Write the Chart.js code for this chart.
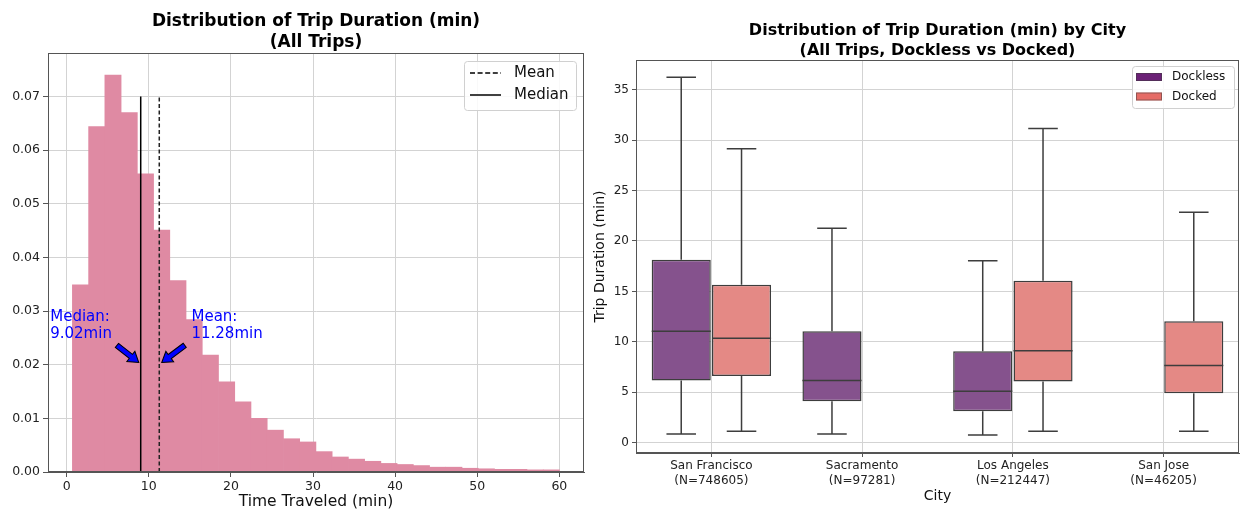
<!DOCTYPE html>
<html>
<head>
<meta charset="utf-8">
<script src="https://cdn.jsdelivr.net/npm/chart.js@4.4.0/dist/chart.umd.min.js"></script>
<style>
  html, body { margin: 0; padding: 0; background: #fff; }
  #wrap { position: relative; width: 1241px; height: 510px; overflow: hidden; }
  #hist { position: absolute; left: 0; top: 0; }
  #box { position: absolute; left: 590px; top: 0; }
</style>
</head>
<body>
<div id="wrap">
  <canvas id="hist" width="590" height="510"></canvas>
  <canvas id="box" width="651" height="510"></canvas>
</div>
<script>
// ---- histogram data (density per bin) ----
const binStart = 0.7;
const binWidth = 1.977;
const histDensity = [0.0349, 0.0644, 0.0740, 0.0670, 0.0556, 0.0451, 0.0357, 0.0284, 0.0218, 0.0168,
                     0.0131, 0.0100, 0.0078, 0.0062, 0.0056, 0.0038, 0.0028, 0.0024, 0.0020, 0.0016,
                     0.0014, 0.0012, 0.0009, 0.0009, 0.0007, 0.0006, 0.0005, 0.0005, 0.0004, 0.0004];
const medianVal = 9.02;
const meanVal = 11.28;
const refLineTop = 0.07;
const histXTicks = [0, 10, 20, 30, 40, 50, 60];
const histYTicks = [0, 0.01, 0.02, 0.03, 0.04, 0.05, 0.06, 0.07];

// annotation text and arrows, in data units
const noteMedian = ['Median:', '9.02min'];
const noteMean = ['Mean:', '11.28min'];
const noteMedianAt = [-2.0, 0.0289];
const noteMeanAt = [15.2, 0.0289];
const arrowMedian = [[6.12, 0.0236], [8.78, 0.0204]];
const arrowMean = [[14.38, 0.0236], [11.58, 0.0204]];

// ---- box plot data (minutes) ----
const cities = ['San Francisco', 'Sacramento', 'Los Angeles', 'San Jose'];
const cityN = ['748605', '97281', '212447', '46205'];
const docklessLow = [0.85, 0.85, 0.75, null];
const docklessQ1 = [6.15, 4.1, 3.1, null];
const docklessMed = [11.05, 6.15, 5.1, null];
const docklessQ3 = [18.15, 11.05, 9.05, null];
const docklessHigh = [36.25, 21.25, 18.05, null];
const dockedLow = [1.12, null, 1.12, 1.12];
const dockedQ1 = [6.6, null, 6.05, 4.9];
const dockedMed = [10.35, null, 9.12, 7.65];
const dockedQ3 = [15.65, null, 16.05, 12.05];
const dockedHigh = [29.15, null, 31.15, 22.85];

const FONT = "'DejaVu Sans', 'Liberation Sans', sans-serif";
Chart.defaults.font.family = FONT;
Chart.defaults.color = '#222';
Chart.defaults.animation = false;

const GRID = '#d3d3d3';
const SPINE = '#555';

function frame(chart){
  const a = chart.chartArea, ctx = chart.ctx;
  ctx.save();
  ctx.strokeStyle = SPINE;
  ctx.lineWidth = 1;
  ctx.strokeRect(a.left + 0.5, a.top + 0.5, a.right - a.left - 1, a.bottom - a.top - 1);
  ctx.restore();
}

function drawTitle(chart, lines, size, y1, gap){
  const a = chart.chartArea, ctx = chart.ctx;
  ctx.save();
  ctx.font = 'bold ' + size + 'px ' + FONT;
  ctx.fillStyle = '#000';
  ctx.textAlign = 'center';
  ctx.textBaseline = 'middle';
  lines.forEach((t, i) => ctx.fillText(t, (a.left + a.right) / 2, y1 + i * gap));
  ctx.restore();
}

function drawArrow(ctx, x1, y1, x2, y2){
  const ang = Math.atan2(y2 - y1, x2 - x1);
  const len = Math.hypot(x2 - x1, y2 - y1);
  const hw = 2.6, headW = 6.5, headL = 10;
  ctx.save();
  ctx.translate(x1, y1);
  ctx.rotate(ang);
  ctx.beginPath();
  ctx.moveTo(0, -hw);
  ctx.lineTo(len - headL, -hw);
  ctx.lineTo(len - headL, -headW);
  ctx.lineTo(len, 0);
  ctx.lineTo(len - headL, headW);
  ctx.lineTo(len - headL, hw);
  ctx.lineTo(0, hw);
  ctx.closePath();
  ctx.fillStyle = 'blue';
  ctx.fill();
  ctx.strokeStyle = '#000';
  ctx.lineWidth = 1;
  ctx.stroke();
  ctx.restore();
}

// left chart extras: frame, title, notes, legend
const histExtras = {
  id: 'histExtras',
  afterDraw(chart){
    const ctx = chart.ctx, x = chart.scales.x, y = chart.scales.y, a = chart.chartArea;
    frame(chart);
    drawTitle(chart, ['Distribution of Trip Duration (min)', '(All Trips)'], 17, 21.5, 21);

    ctx.save();
    ctx.font = '15px ' + FONT;
    ctx.fillStyle = 'blue';
    ctx.textBaseline = 'middle';
    ctx.textAlign = 'left';
    [[noteMedian, noteMedianAt], [noteMean, noteMeanAt]].forEach(([lines, at]) => {
      const px = x.getPixelForValue(at[0]), py = y.getPixelForValue(at[1]);
      lines.forEach((t, i) => ctx.fillText(t, px, py + i * 17));
    });
    ctx.restore();

    [arrowMedian, arrowMean].forEach(ar => {
      drawArrow(ctx, x.getPixelForValue(ar[0][0]), y.getPixelForValue(ar[0][1]),
                     x.getPixelForValue(ar[1][0]), y.getPixelForValue(ar[1][1]));
    });

    // legend box
    const w = 112, h = 49, bx = a.right - 8 - w, by = a.top + 8;
    ctx.save();
    ctx.fillStyle = 'rgba(255,255,255,0.85)';
    ctx.strokeStyle = '#d0d0d0';
    ctx.lineWidth = 1;
    ctx.beginPath();
    ctx.roundRect(bx + 0.5, by + 0.5, w, h, 3);
    ctx.fill();
    ctx.stroke();
    ctx.strokeStyle = '#000';
    ctx.lineWidth = 1.5;
    ctx.setLineDash([5, 2.6]);
    ctx.beginPath(); ctx.moveTo(bx + 6, by + 12); ctx.lineTo(bx + 37, by + 12); ctx.stroke();
    ctx.setLineDash([]);
    ctx.beginPath(); ctx.moveTo(bx + 6, by + 34); ctx.lineTo(bx + 37, by + 34); ctx.stroke();
    ctx.font = '15px ' + FONT;
    ctx.fillStyle = '#111';
    ctx.textBaseline = 'middle';
    ctx.fillText('Mean', bx + 50, by + 12);
    ctx.fillText('Median', bx + 50, by + 34);
    ctx.restore();
  }
};

new Chart(document.getElementById('hist'), {
  data: {
    datasets: [
      {
        type: 'bar',
        label: 'Trips',
        data: histDensity.map((v, i) => ({ x: binStart + binWidth * (i + 0.5), y: v })),
        backgroundColor: '#df8aa3',
        borderWidth: 0,
        barPercentage: 1,
        categoryPercentage: 1,
        order: 2
      },
      {
        type: 'line',
        label: 'Mean',
        data: [{ x: meanVal, y: 0 }, { x: meanVal, y: refLineTop }],
        borderColor: '#222',
        borderWidth: 1.5,
        borderDash: [4, 2.5],
        pointRadius: 0,
        order: 1
      },
      {
        type: 'line',
        label: 'Median',
        data: [{ x: medianVal, y: 0 }, { x: medianVal, y: refLineTop }],
        borderColor: '#000',
        borderWidth: 1.5,
        pointRadius: 0,
        order: 1
      }
    ]
  },
  options: {
    responsive: false,
    layout: { padding: { top: 53, right: 6, left: 0, bottom: 0 } },
    plugins: { legend: { display: false }, title: { display: false }, tooltip: { enabled: false } },
    scales: {
      x: {
        type: 'linear',
        min: -2.27,
        max: 63.0,
        offset: false,
        z: 1,
        afterFit(s){ s.height = 38; },
        afterBuildTicks(s){ s.ticks = histXTicks.map(v => ({ value: v })); },
        ticks: { font: { size: 12.5 }, padding: 2, color: '#222' },
        grid: { color: GRID, tickColor: SPINE, tickLength: 5, offset: false },
        border: { color: SPINE },
        title: { display: true, text: 'Time Traveled (min)', font: { size: 15.5, lineHeight: 1.1 }, padding: { top: 0, bottom: 0 }, color: '#111' }
      },
      y: {
        min: 0,
        max: 0.0781,
        z: 1,
        afterFit(s){ s.width = 48; },
        afterBuildTicks(s){ s.ticks = histYTicks.map(v => ({ value: v })); },
        ticks: { font: { size: 12.5 }, padding: 3, color: '#222', callback: v => v.toFixed(2) },
        grid: { color: GRID, tickColor: SPINE, tickLength: 5 },
        border: { color: SPINE }
      }
    }
  },
  plugins: [histExtras]
});

// right chart extras: whiskers, medians, frame, title, legend
const DOCKLESS_FACE = '#85528d', DOCKED_FACE = '#e48985';
const DOCKLESS_KEY = '#6b2176', DOCKED_KEY = '#e56c66';
const BOX_EDGE = '#3d3d3d';

const boxExtras = {
  id: 'boxExtras',
  afterDraw(chart){
    const ctx = chart.ctx, y = chart.scales.y, a = chart.chartArea;
    const stats = [
      { low: docklessLow, med: docklessMed, q1: docklessQ1, q3: docklessQ3, high: docklessHigh },
      { low: dockedLow, med: dockedMed, q1: dockedQ1, q3: dockedQ3, high: dockedHigh }
    ];
    ctx.save();
    ctx.strokeStyle = BOX_EDGE;
    ctx.lineWidth = 1.5;
    stats.forEach((s, d) => {
      const meta = chart.getDatasetMeta(d);
      meta.data.forEach((el, i) => {
        if (s.q1[i] == null) return;
        const cx = el.x, half = el.width / 2, cap = el.width / 4;
        const yLow = y.getPixelForValue(s.low[i]), yHigh = y.getPixelForValue(s.high[i]);
        const yQ1 = y.getPixelForValue(s.q1[i]), yQ3 = y.getPixelForValue(s.q3[i]);
        const yMed = y.getPixelForValue(s.med[i]);
        ctx.beginPath();
        ctx.moveTo(cx, yQ3); ctx.lineTo(cx, yHigh);
        ctx.moveTo(cx - cap, yHigh); ctx.lineTo(cx + cap, yHigh);
        ctx.moveTo(cx, yQ1); ctx.lineTo(cx, yLow);
        ctx.moveTo(cx - cap, yLow); ctx.lineTo(cx + cap, yLow);
        ctx.moveTo(cx - half, yMed); ctx.lineTo(cx + half, yMed);
        ctx.stroke();
      });
    });
    ctx.restore();

    frame(chart);
    drawTitle(chart, ['Distribution of Trip Duration (min) by City', '(All Trips, Dockless vs Docked)'], 16, 31, 19.5);

    // legend box
    const w = 102, h = 42, bx = a.right - 5 - w, by = a.top + 6;
    ctx.save();
    ctx.fillStyle = 'rgba(255,255,255,0.85)';
    ctx.strokeStyle = '#d0d0d0';
    ctx.lineWidth = 1;
    ctx.beginPath();
    ctx.roundRect(bx + 0.5, by + 0.5, w, h, 3);
    ctx.fill();
    ctx.stroke();
    [[DOCKLESS_KEY, 'Dockless', 11], [DOCKED_KEY, 'Docked', 30.5]].forEach(([c, t, yy]) => {
      ctx.fillStyle = c;
      ctx.fillRect(bx + 4, by + yy - 4, 26, 8);
      ctx.strokeStyle = 'rgba(60,60,60,0.5)';
      ctx.strokeRect(bx + 4.5, by + yy - 3.5, 25, 7);
      ctx.fillStyle = '#111';
      ctx.font = '12px ' + FONT;
      ctx.textBaseline = 'middle';
      ctx.fillText(t, bx + 40, by + yy);
    });
    ctx.restore();
  }
};

function boxRange(q1, q3){
  return q1.map((v, i) => (v == null ? null : [v, q3[i]]));
}

new Chart(document.getElementById('box'), {
  type: 'bar',
  data: {
    labels: cities.map((c, i) => [c, '(N=' + cityN[i] + ')']),
    datasets: [
      {
        label: 'Dockless',
        data: boxRange(docklessQ1, docklessQ3),
        backgroundColor: DOCKLESS_FACE,
        borderColor: BOX_EDGE,
        borderWidth: 1.5,
        borderSkipped: false,
        categoryPercentage: 0.8,
        barPercentage: 0.98
      },
      {
        label: 'Docked',
        data: boxRange(dockedQ1, dockedQ3),
        backgroundColor: DOCKED_FACE,
        borderColor: BOX_EDGE,
        borderWidth: 1.5,
        borderSkipped: false,
        categoryPercentage: 0.8,
        barPercentage: 0.98
      }
    ]
  },
  options: {
    responsive: false,
    layout: { padding: { top: 60, right: 2, left: 0, bottom: 0 } },
    plugins: { legend: { display: false }, title: { display: false }, tooltip: { enabled: false } },
    scales: {
      x: {
        z: 1,
        afterFit(s){ s.height = 57; },
        ticks: { font: { size: 12, lineHeight: 1.25 }, padding: 1, color: '#222' },
        grid: { color: GRID, tickColor: SPINE, tickLength: 4, offset: false },
        border: { color: SPINE },
        title: { display: true, text: 'City', font: { size: 14 }, padding: { top: 0, bottom: 5 }, color: '#111' }
      },
      y: {
        min: -1.03,
        max: 37.95,
        z: 1,
        afterFit(s){ s.width = 46; },
        ticks: { stepSize: 5, includeBounds: false, font: { size: 12 }, padding: 3, color: '#222' },
        grid: { color: GRID, tickColor: SPINE, tickLength: 4 },
        border: { color: SPINE },
        title: { display: true, text: 'Trip Duration (min)', font: { size: 14 }, padding: { top: 2, bottom: 0 }, color: '#111' }
      }
    }
  },
  plugins: [boxExtras]
});
</script>
</body>
</html>
